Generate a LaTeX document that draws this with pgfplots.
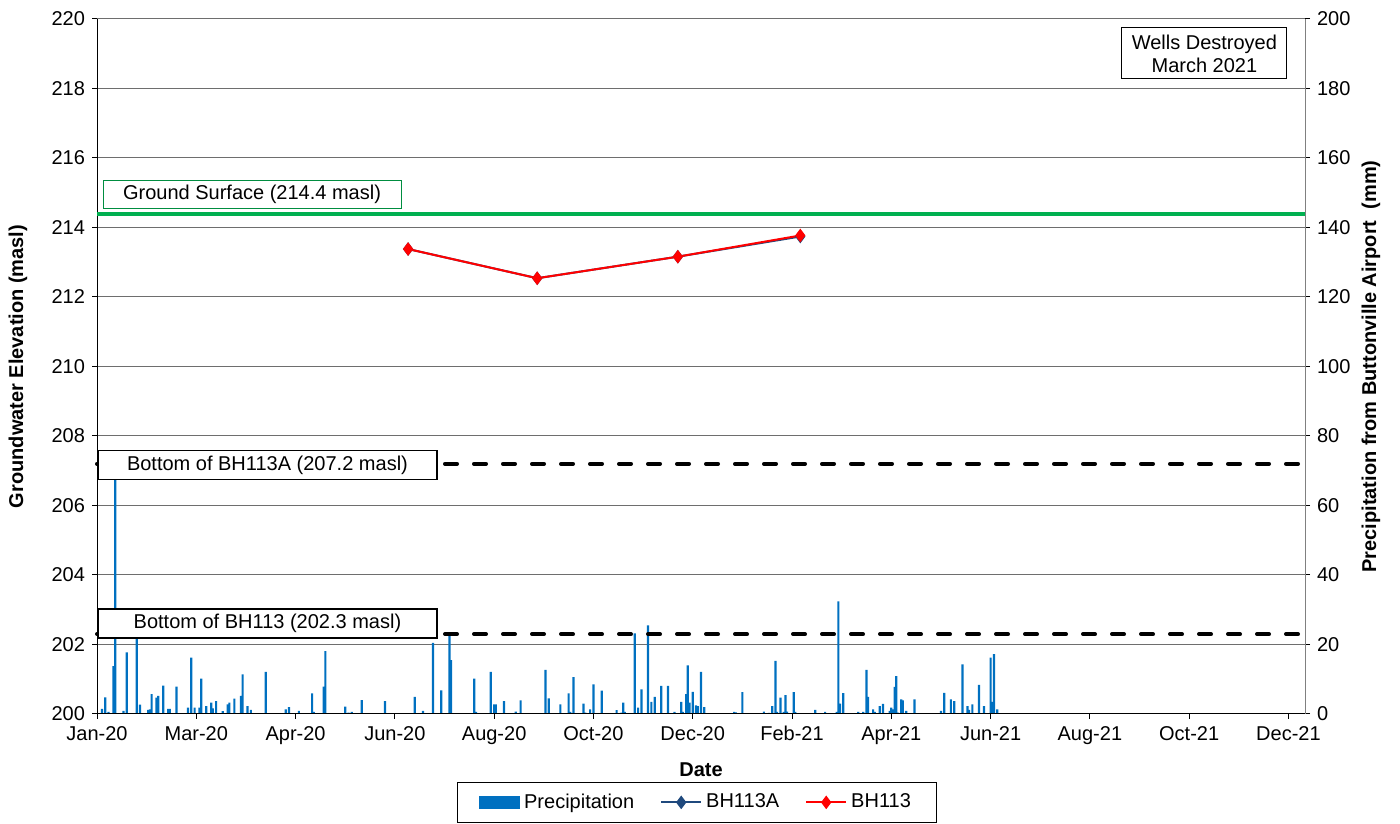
\documentclass[border=0pt]{standalone}
\usepackage{fontspec}
\setmainfont{Liberation Sans}
\usepackage{pgfplots}
\usepackage{pgfplotstable}
\pgfplotsset{compat=1.18}
\definecolor{precip}{RGB}{0,112,192}
\definecolor{bhA}{RGB}{31,73,125}
\definecolor{gsgreen}{RGB}{0,176,80}
\definecolor{gridc}{RGB}{110,110,110}

\pgfplotstableread{
day mm
3 1.5
5 4.8
7 0.6
10 13.8
11 70
16 0.9
18 17.7
24 23
26 2.7
31 1.2
32 1.3
33 5.7
36 4.7
37 5.2
40 8.2
43 1.5
44 1.5
48 7.9
55 1.8
57 16.2
59 1.8
62 1.8
63 10.2
66 2.3
69 3.3
70 1.6
72 3.7
76 0.8
79 2.8
80 3.3
83 4.4
87 5.2
88 11.4
91 2.3
93 1.2
102 12.1
114 1.3
116 2.0
122 0.9
130 5.9
131 0.6
137 7.9
138 18.1
150 2.1
152 0.4
154 0.6
160 4.0
174 3.7
192 4.9
197 0.9
203 20.5
208 6.8
213 23.4
214 15.5
228 10.2
229 0.6
238 12.1
240 2.8
241 2.8
246 3.7
253 0.7
256 3.9
271 12.7
273 4.5
280 2.8
285 5.9
286 0.6
288 10.6
294 3.0
295 0.4
298 1.3
300 8.5
305 6.7
314 1.1
317 0.4
318 3.3
319 0.6
325 23.2
327 1.8
329 7.1
333 25.5
335 3.5
337 4.9
341 8.1
345 8.1
349 0.6
353 3.5
354 0.6
356 5.7
357 14.0
358 3.3
360 6.4
362 2.5
363 2.3
365 12.1
367 2.0
385 0.6
386 0.5
390 6.3
403 0.7
406 0.3
408 2.3
410 15.3
411 0.6
413 4.7
415 0.6
416 5.4
417 0.7
421 6.3
422 0.6
434 1.2
440 0.6
447 0.6
448 32.4
449 3.0
451 6.0
460 0.6
463 0.6
465 12.7
466 4.9
469 1.3
470 0.6
473 2.3
475 2.9
479 0.9
480 1.8
481 1.3
482 7.8
483 10.9
484 0.4
486 4.2
487 3.9
489 0.9
494 4.2
510 0.9
512 6.1
516 4.2
518 3.7
523 14.3
526 2.3
527 1.2
529 2.8
533 8.4
536 2.3
540 16.2
541 3.5
542 17.2
544 1.3
}\precipdata

\pgfplotsset{
  common/.style={
    at={(48.5pt,54.5pt)}, anchor=south west,
    scale only axis, width=604pt, height=347.5pt,
    xmin=0, xmax=730,
    tick align=outside, major tick length=2.5pt,
    axis line style={-, line width=0.5pt},
    tick style={black, line width=0.5pt},
    tick label style={font=\fontsize{10}{12}\selectfont},
    label style={font=\bfseries\fontsize{10}{12}\selectfont},
    /pgf/number format/assume math mode=true,
    clip=false,
  },
  longline/.style={legend image code/.code={\draw[mark repeat=2,mark phase=2,##1] plot coordinates {(0pt,0pt) (10pt,0pt) (20pt,0pt)};}},
}

\begin{document}
\begin{tikzpicture}
\useasboundingbox (0,0) rectangle (700pt,411.5pt);
\begin{axis}[common,
  ymin=0, ymax=200,
  axis y line*=right, axis x line=none,
  ytick={0,20,...,200},
  ymajorgrids, grid style={gridc, line width=0.5pt},
  y axis line style={gray},
  ylabel={Precipitation from Buttonville Airport\ \ (mm)},
  ylabel style={at={(axis description cs:1.0546,0.5)}, anchor=center, rotate=0},
]
\addplot[ybar, bar width=1.1pt, fill=precip, draw=none] table[x=day,y=mm]{\precipdata};
\end{axis}
\begin{axis}[common,
  ymin=200, ymax=220,
  axis y line*=left, axis x line*=bottom,
  xtick={0,60,...,720},
  xticklabels={Jan-20,Mar-20,Apr-20,Jun-20,Aug-20,Oct-20,Dec-20,Feb-21,Apr-21,Jun-21,Aug-21,Oct-21,Dec-21},
  ytick={200,202,...,220},
  xlabel={Date},
  xlabel style={at={(axis description cs:0.5,-0.0806)}, anchor=center},
  ylabel={Groundwater Elevation (masl)},
  ylabel style={at={(axis description cs:-0.0654,0.5)}, anchor=center},
  legend columns=3,
  legend style={at={(0.4967,-0.098)}, anchor=north, draw=black, line width=0.5pt,
    font=\fontsize{10}{12}\selectfont, inner xsep=11pt, inner ysep=3.5pt,
    /tikz/every even column/.append style={column sep=11pt}},
]
\addlegendimage{legend image code/.code={\fill[precip] (0pt,-3pt) rectangle (20pt,3pt);}}
\addlegendentry{Precipitation}
\addplot[gsgreen, line width=2pt, forget plot] coordinates {(0,214.4) (730,214.4)};
\addplot[black, line width=2pt, line cap=round, dash pattern=on 6pt off 8.5pt, forget plot] coordinates {(0,207.2) (730,207.2)};
\addplot[black, line width=2pt, line cap=round, dash pattern=on 6pt off 8.5pt, forget plot] coordinates {(0,202.3) (730,202.3)};
\addplot[bhA, line width=1pt, mark=diamond*, mark size=2.6pt, mark options={solid}, longline] coordinates {
(188,213.38) (266,212.54) (351,213.16) (425,213.74)};
\addlegendentry{BH113A}
\addplot[red, line width=1pt, mark=diamond*, mark size=2.6pt, mark options={solid}, longline] coordinates {
(188,213.38) (266,212.54) (351,213.16) (425,213.77)};
\addlegendentry{BH113}
\node[draw=gsgreen!80!black, fill=white, line width=0.5pt, minimum width=149pt, minimum height=14pt, inner sep=0pt, font=\fontsize{10}{12}\selectfont] at (axis cs:93.7,214.96) {Ground Surface (214.4 masl)};
\node[draw=black, fill=white, line width=0.8pt, minimum width=169.5pt, minimum height=14.5pt, inner sep=0pt, font=\fontsize{10}{12}\selectfont] at (axis cs:103,207.16) {Bottom of BH113A (207.2 masl)};
\node[draw=black, fill=white, line width=0.8pt, minimum width=169.5pt, minimum height=14.5pt, inner sep=0pt, font=\fontsize{10}{12}\selectfont] at (axis cs:103,202.6) {Bottom of BH113 (202.3 masl)};
\node[draw=black, fill=white, line width=0.5pt, minimum width=82.5pt, minimum height=25.5pt, inner sep=1pt, align=center, font=\fontsize{10}{11.5}\selectfont] at (axis cs:669.2,219.01) {Wells Destroyed\\March 2021};
\end{axis}
\end{tikzpicture}
\end{document}
